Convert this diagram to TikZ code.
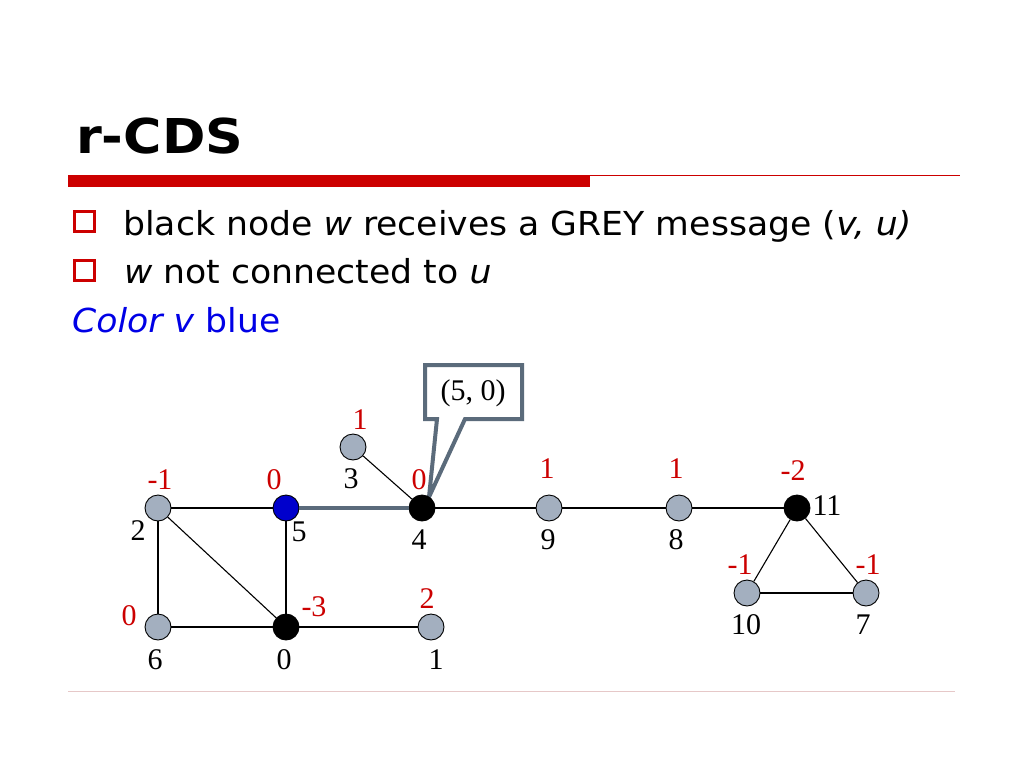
\documentclass[tikz,border=0pt]{standalone}
\usepackage{fontspec}
\setmainfont{DejaVu Sans}
\newfontfamily\titlefont[FakeStretch=1.09]{DejaVu Sans}
\newfontfamily\bodyfont[FakeStretch=1.05]{DejaVu Sans}
\newfontfamily\graphfont{Liberation Serif}
\definecolor{slidered}{HTML}{CC0000}
\definecolor{slate}{HTML}{5B6B7B}
\definecolor{nodegray}{HTML}{A3AFBF}
\definecolor{vblue}{HTML}{0000CC}
\definecolor{textblue}{HTML}{0000E6}
\definecolor{footline}{HTML}{E6C8C8}
\begin{document}
\begin{tikzpicture}[x=1pt,y=-1pt,
  gnode/.style={circle, draw=black, line width=0.9pt, fill=nodegray, minimum size=26pt, inner sep=0pt},
  bnode/.style={gnode, fill=black},
  vnode/.style={gnode, fill=vblue},
  numlbl/.style={font=\graphfont\fontsize{30}{32}\selectfont, inner sep=0pt, text=black},
  redlbl/.style={numlbl, text=slidered},
  edge/.style={line width=1.1pt, black},
  bullettext/.style={font=\bodyfont\fontsize{33}{38}\selectfont, anchor=base west, inner sep=0pt},
  bulletbox/.style={draw=slidered, line width=3pt, minimum size=20pt, inner sep=0pt}
]
\useasboundingbox (0,0) rectangle (1024,768);
\fill[white] (0,0) rectangle (1024,768);

% title and rules
\node[font=\titlefont\bfseries\fontsize{48}{56}\selectfont, anchor=base west, inner sep=0pt] (title) at (76,153) {r-CDS};
\fill[slidered] (68,175) rectangle (590,187);
\draw[slidered, line width=1pt] (590,175.5) -- (960,175.5);
\draw[footline, line width=1pt] (68,691) -- (955,691);

% bullets
\node[bulletbox] (b1) at (84.5,221.5) {};
\node[bulletbox] (b2) at (84.5,270.5) {};
\node[bullettext] (t1) at (123,235) {black node \textit{w} receives a GREY message (\textit{v, u)}};
\node[bullettext] (t2) at (124,283) {\textit{w} not connected to \textit{u}};
\node[bullettext, text=textblue] (t3) at (72,332) {\textit{Color v} blue};

% callout (drawn before nodes so the node covers the tip)
\coordinate (tip) at (429,497);
\draw[slate, line width=4pt, fill=white, line join=miter]
  (425,365) -- (522,365) -- (522,419) -- (465,419) -- (tip) -- (437,419) -- (425,419) -- cycle;
\node[numlbl] (msg) at (473,393) {(5, 0)};

% nodes
\node[gnode] (n2) at (158,508) {};
\node[vnode] (n5) at (286,508) {};
\node[bnode] (n4) at (422,508) {};
\node[gnode] (n3) at (353,447) {};
\node[gnode] (n9) at (549,508) {};
\node[gnode] (n8) at (679,508) {};
\node[bnode] (n11) at (797,508) {};
\node[gnode] (n10) at (747,593) {};
\node[gnode] (n7) at (866,593) {};
\node[gnode] (n6) at (158,627) {};
\node[bnode] (n0) at (286,627) {};
\node[gnode] (n1) at (431,627) {};

% edges
\draw[edge] (n2) -- (n5);
\draw[edge] (n2) -- (n6);
\draw[edge] (n2) -- (n0);
\draw[edge] (n5) -- (n0);
\draw[edge] (n6) -- (n0);
\draw[edge] (n0) -- (n1);
\draw[edge] (n3) -- (n4);
\draw[edge] (n4) -- (n9);
\draw[edge] (n9) -- (n8);
\draw[edge] (n8) -- (n11);
\draw[edge] (n11) -- (n10);
\draw[edge] (n11) -- (n7);
\draw[edge] (n10) -- (n7);
\draw[slate, line width=4pt] (n5) -- (n4);

% black labels
\node[numlbl] (l2) at (138,531) {2};
\node[numlbl] (l5) at (299,532) {5};
\node[numlbl] (l4) at (419,540) {4};
\node[numlbl] (l3) at (351,479) {3};
\node[numlbl] (l9) at (548,540) {9};
\node[numlbl] (l8) at (676,540) {8};
\node[numlbl] (l11) at (827,506) {11};
\node[numlbl] (l10) at (746,625) {10};
\node[numlbl] (l7) at (863,625) {7};
\node[numlbl] (l6) at (155,660) {6};
\node[numlbl] (l0) at (284,660) {0};
\node[numlbl] (l1) at (436,660) {1};

% red labels
\node[redlbl] (r2) at (160,480) {-1};
\node[redlbl] (r5) at (274,480) {0};
\node[redlbl] (r4) at (419,480) {0};
\node[redlbl] (r3) at (360,420) {1};
\node[redlbl] (r9) at (547,469) {1};
\node[redlbl] (r8) at (676,469) {1};
\node[redlbl] (r11) at (793,471) {-2};
\node[redlbl] (r10) at (740,565) {-1};
\node[redlbl] (r7) at (868,565) {-1};
\node[redlbl] (r6) at (129,616) {0};
\node[redlbl] (r0) at (314,607) {-3};
\node[redlbl] (r1) at (427,599) {2};
\end{tikzpicture}
\end{document}
